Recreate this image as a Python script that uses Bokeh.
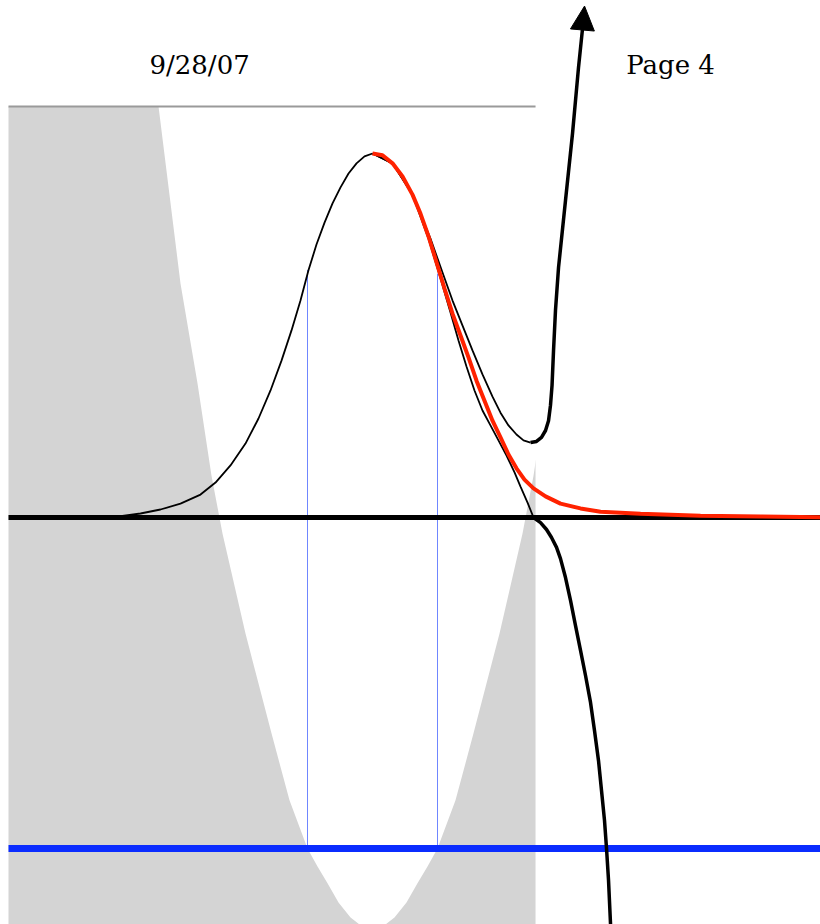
from bokeh.plotting import figure
from bokeh.models import Range1d, Label, Arrow, NormalHead
from bokeh.embed import file_html
from bokeh.resources import INLINE

# ---- data (x in units of the blue-line spacing, y as fraction of the peak) ----
gauss_left_x = [-4.185, -3.877, -3.569, -3.262, -2.954, -2.646, -2.415, -2.185, -1.954, -1.754, -1.569,
                -1.4, -1.246, -1.108, -0.985, -0.862, -0.738, -0.615, -0.492, -0.369, -0.246, -0.123, 0.0]
gauss_left_y = [0.0, 0.004, 0.011, 0.022, 0.038, 0.063, 0.096, 0.143, 0.203, 0.272, 0.349,
                0.431, 0.514, 0.596, 0.679, 0.750, 0.810, 0.863, 0.907, 0.945, 0.973, 0.992, 1.0]

red_x = [0.0, 0.154, 0.308, 0.462, 0.615, 0.738, 0.862, 0.985, 1.108, 1.231, 1.354, 1.477, 1.6, 1.723,
         1.846, 1.969, 2.092, 2.215, 2.338, 2.477, 2.662, 2.892, 3.2, 3.508, 4.123, 5.046, 5.969, 6.892]
red_y = [1.0, 0.995, 0.973, 0.937, 0.887, 0.835, 0.772, 0.701, 0.629, 0.560, 0.500, 0.440, 0.376, 0.321,
         0.266, 0.220, 0.173, 0.135, 0.104, 0.080, 0.058, 0.038, 0.025, 0.016, 0.010, 0.005, 0.003, 0.001]

upper_thin_x = [0.0, 0.308, 0.615, 0.892, 1.077, 1.231, 1.385, 1.538, 1.692, 1.846, 1.969, 2.092, 2.215, 2.323, 2.431]
upper_thin_y = [1.0, 0.973, 0.887, 0.766, 0.673, 0.596, 0.527, 0.459, 0.393, 0.332, 0.288, 0.253, 0.228, 0.212, 0.206]
upper_thick_x = [2.431, 2.523, 2.6, 2.662, 2.708, 2.738, 2.762, 2.785, 2.815, 2.862, 2.969, 3.077, 3.169, 3.231]
upper_thick_y = [0.206, 0.209, 0.220, 0.239, 0.266, 0.308, 0.363, 0.459, 0.569, 0.687, 0.871, 1.055, 1.236, 1.343]
arrow_tip = (3.262, 1.405)

inner_thin_x = [0.0, 0.308, 0.615, 0.862, 1.046, 1.2, 1.323, 1.446, 1.569, 1.692, 1.815, 1.938, 2.062,
                2.185, 2.277, 2.385, 2.477]
inner_thin_y = [1.0, 0.973, 0.887, 0.766, 0.657, 0.563, 0.486, 0.415, 0.349, 0.294, 0.253, 0.212, 0.170,
                0.124, 0.085, 0.041, 0.0]
lower_thick_x = [2.477, 2.585, 2.677, 2.754, 2.831, 2.892, 2.969, 3.046, 3.123, 3.2, 3.277, 3.354, 3.415,
                 3.477, 3.523, 3.569, 3.6, 3.631, 3.662, 3.677]
lower_thick_y = [0.0, -0.014, -0.033, -0.055, -0.082, -0.113, -0.165, -0.228, -0.297, -0.365, -0.434, -0.508,
                 -0.585, -0.668, -0.750, -0.832, -0.909, -0.997, -1.118, -1.162]

# white (unshaded) region: half-width at each level
white_half = [0.0, 0.2, 0.338, 0.523, 0.692, 0.846, 1.0, 1.277, 1.554, 1.954, 2.308, 2.477, 2.692, 2.954, 3.292]
white_y = [-1.129, -1.118, -1.099, -1.058, -1.005, -0.959, -0.909, -0.777, -0.593, -0.319, -0.044, 0.115,
           0.368, 0.643, 1.129]

shade_left, shade_right, shade_top, shade_bottom = -5.6, 2.508, 1.129, -1.2
blue_level = -0.909
marks_x = [-1.0, 1.0]
marks_top = [0.68, 0.67]

date_text, page_text = "9/28/07", "Page 4"
date_pos = (-2.66, 1.242)
page_pos = (4.585, 1.242)

X0, X1, Y0, Y1 = -5.723, 6.892, -1.1181, 1.4203

# ---- figure ----
p = figure(width=820, height=924, output_backend="svg", toolbar_location=None,
           x_range=Range1d(X0, X1), y_range=Range1d(Y0, Y1),
           x_axis_location=None, y_axis_location=None, min_border=0)
p.outline_line_color = None
p.grid.visible = False
p.background_fill_color = "white"

# shaded panel with the white region cut out
p.quad(left=[shade_left], right=[shade_right], bottom=[shade_bottom], top=[shade_top],
       fill_color="#d4d4d4", line_color=None)
wx = [-h for h in white_half[::-1]] + white_half
wy = white_y[::-1] + white_y
p.patch(wx, wy, fill_color="white", line_color=None)
p.segment(x0=[shade_left], y0=[shade_top], x1=[shade_right], y1=[shade_top],
          line_color="#9a9a9a", line_width=2)

# thin blue verticals
p.segment(x0=marks_x, y0=[blue_level, blue_level], x1=marks_x, y1=marks_top,
          line_color="#6f86ff", line_width=1)

# horizontal lines
p.segment(x0=[shade_left], y0=[0], x1=[X1], y1=[0], line_color="black", line_width=5)
p.segment(x0=[shade_left], y0=[blue_level], x1=[X1], y1=[blue_level], line_color="#0a2cff", line_width=7)

# curves
p.line(gauss_left_x, gauss_left_y, line_color="black", line_width=1.8)
p.line(inner_thin_x, inner_thin_y, line_color="black", line_width=1.8)
p.line(upper_thin_x, upper_thin_y, line_color="black", line_width=1.8)
p.line(red_x, red_y, line_color="#ff2200", line_width=4)
p.line(upper_thick_x, upper_thick_y, line_color="black", line_width=3.5, line_join="round")
p.line(lower_thick_x, lower_thick_y, line_color="black", line_width=3.5, line_join="round")
p.add_layout(Arrow(end=NormalHead(size=24, fill_color="black", line_color="black", line_width=1),
                   x_start=upper_thick_x[-1], y_start=upper_thick_y[-1],
                   x_end=arrow_tip[0], y_end=arrow_tip[1], line_color="black", line_width=3.5))

for txt, (tx, ty) in [(date_text, date_pos), (page_text, page_pos)]:
    p.add_layout(Label(x=tx, y=ty, text=txt, text_font="DejaVu Serif", text_font_size="26px",
                       text_align="center", text_baseline="middle", text_color="black"))

open("out.html", "w").write(file_html(p, INLINE))
